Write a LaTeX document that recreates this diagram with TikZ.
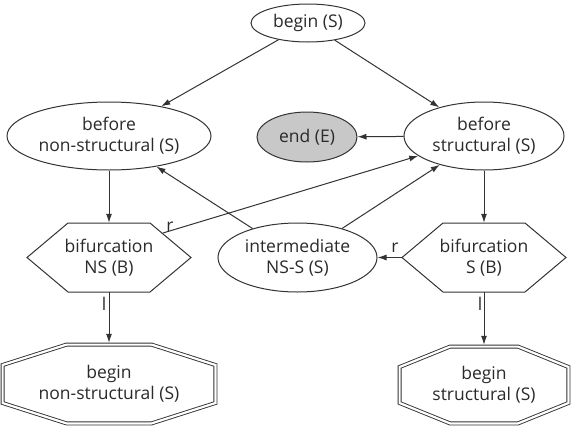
\documentclass[tikz,border=0pt]{standalone}
\usepackage{fontspec}
\setmainfont{Open Sans}
\usetikzlibrary{arrows.meta,calc,shapes.geometric}
\definecolor{ln}{HTML}{333333}
\definecolor{tx}{HTML}{2A2A2A}
\definecolor{endfill}{HTML}{C8C8C8}
\tikzset{
  txt/.style={text=tx, font=\fontsize{17.5}{21}\selectfont, align=center},
  state/.style={ellipse, draw=ln, line width=1pt, inner sep=0pt, txt},
  box/.style={rectangle, draw=none, inner sep=0pt, txt},
  outline/.style={draw=ln, line width=1pt, line join=miter},
  dbl/.style={draw=ln, line width=0.9pt, double=white, double distance=2.2pt, line join=miter},
  conn/.style={draw=ln, line width=1pt, -{Latex[length=9pt,width=6pt]}},
  lbl/.style={inner sep=0pt, text=tx, font=\fontsize{17.5}{21}\selectfont}
}
\begin{document}
\begin{tikzpicture}[x=1pt,y=-1pt]
\useasboundingbox (0,0) rectangle (571,426);
% ellipses
\node[state, minimum width=114pt, minimum height=38pt] (begin) at (308,23) {begin (S)};
\node[state, minimum width=204pt, minimum height=68pt] (bns) at (109,136) {before\\non-structural (S)};
\node[state, fill=endfill, minimum width=100pt, minimum height=50pt] (end) at (307,137) {end (E)};
\node[state, minimum width=160pt, minimum height=68pt] (bs) at (484,136) {before\\structural (S)};
\node[state, minimum width=159pt, minimum height=69pt] (inter) at (297.5,257.5) {intermediate\\NS-S (S)};
% hexagons
\draw[outline] (27,257.5) -- (68,223) -- (150,223) -- (191,257.5) -- (150,292) -- (68,292) -- cycle;
\node[box, minimum width=164pt, minimum height=69pt] (fns) at (109,257.5) {bifurcation\\NS (B)};
\draw[outline] (402,257.5) -- (443,223) -- (525,223) -- (566,257.5) -- (525,292) -- (443,292) -- cycle;
\node[box, minimum width=164pt, minimum height=69pt] (fs) at (484,257.5) {bifurcation\\S (B)};
% octagons
\draw[dbl] (66.5,344.6) -- (151.5,344.6) -- (215.4,365) -- (215.4,403) -- (151.5,423.4) -- (66.5,423.4) -- (2.6,403) -- (2.6,365) -- cycle;
\node[box, minimum width=216pt, minimum height=82pt] (obns) at (109,384) {begin\\non-structural (S)};
\draw[dbl] (450,346.6) -- (518,346.6) -- (568.4,367) -- (568.4,403) -- (518,423.4) -- (450,423.4) -- (399.6,403) -- (399.6,367) -- cycle;
\node[box, minimum width=172pt, minimum height=80pt] (obs) at (484,385) {begin\\structural (S)};
% connectors
\draw[conn] (begin) -- (bns);
\draw[conn] (begin) -- (bs);
\draw[conn] (bs) -- (end);
\draw[conn] (bns) -- (fns);
\draw[conn] (bs) -- (fs);
\draw[conn] (inter) -- (bns);
\draw[conn] (inter) -- (bs);
\coordinate (fnsr) at (163,233);
\draw[conn] (fnsr) -- (bs);
\node[lbl] (r1) at (170,227) {r};
\draw[conn] (fs.west) -- (inter);
\node[lbl] (r2) at (395,248) {r};
\draw[conn] (fns.south) -- (obns.north);
\node[lbl] (l1) at (104,304) {l};
\draw[conn] (fs.south) -- (obs.north);
\node[lbl] (l2) at (480,304) {l};
\end{tikzpicture}
\end{document}
